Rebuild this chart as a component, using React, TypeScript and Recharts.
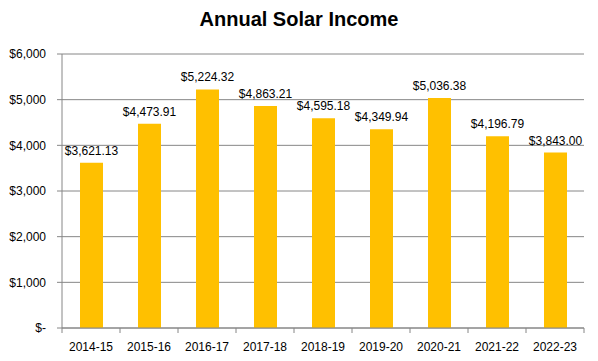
// Annual Solar Income chart
// Excel-style gold column chart with value labels

import { BarChart, Bar, XAxis, YAxis, CartesianGrid, LabelList } from 'recharts';

const years = ['2014-15', '2015-16', '2016-17', '2017-18', '2018-19', '2019-20', '2020-21', '2021-22', '2022-23'];
const income = [3621.13, 4473.91, 5224.32, 4863.21, 4595.18, 4349.94, 5036.38, 4196.79, 3843.0];
const yTicks = [0, 1000, 2000, 3000, 4000, 5000, 6000];

const WIDTH = 598;
const HEIGHT = 361;
const PLOT_LEFT = 62;
const PLOT_RIGHT = 584;
const PLOT_TOP = 54;
const PLOT_BOTTOM = 328;
const GRID = '#868686';
const FONT = '"Liberation Sans", Arial, sans-serif';

const data = years.map((year, i) => ({ year, income: income[i] }));
const halfBand = (PLOT_RIGHT - PLOT_LEFT) / years.length / 2;

const money = (v: number) =>
  '$' + v.toLocaleString('en-US', { minimumFractionDigits: 2, maximumFractionDigits: 2 });

const axisMoney = (v: number) => (v === 0 ? '$-' : '$' + v.toLocaleString('en-US'));

// category ticks sit on the band edges, like Excel
function YearTick(props: any) {
  const { x, payload, index } = props;
  const isLast = index === years.length - 1;
  return (
    <g>
      <line x1={x - halfBand} x2={x - halfBand} y1={PLOT_BOTTOM} y2={PLOT_BOTTOM + 5} stroke={GRID} />
      {isLast && (
        <line x1={x + halfBand} x2={x + halfBand} y1={PLOT_BOTTOM} y2={PLOT_BOTTOM + 5} stroke={GRID} />
      )}
      <text x={x} y={PLOT_BOTTOM + 23} textAnchor="middle" fontSize={12} fontFamily={FONT} fill="#000">
        {payload.value}
      </text>
    </g>
  );
}

export default function App() {
  return (
    <div style={{ position: 'absolute', left: 0, top: 0, width: WIDTH, height: HEIGHT, background: '#fff' }}>
      <div
        style={{
          position: 'absolute',
          top: 8,
          width: WIDTH,
          textAlign: 'center',
          fontFamily: FONT,
          fontWeight: 'bold',
          fontSize: 20,
          color: '#000',
        }}
      >
        Annual Solar Income
      </div>
      <BarChart
        width={WIDTH}
        height={HEIGHT}
        data={data}
        margin={{ top: PLOT_TOP, right: WIDTH - PLOT_RIGHT, bottom: 0, left: 0 }}
      >
        <CartesianGrid vertical={false} stroke={GRID} />
        <XAxis
          dataKey="year"
          height={HEIGHT - PLOT_BOTTOM}
          axisLine={{ stroke: GRID }}
          tickLine={false}
          tick={<YearTick />}
          interval={0}
        />
        <YAxis
          width={PLOT_LEFT}
          domain={[0, 6000]}
          ticks={yTicks}
          tickFormatter={axisMoney}
          axisLine={{ stroke: GRID }}
          tickLine={{ stroke: GRID }}
          tickSize={5}
          tickMargin={11}
          tick={{ fill: '#000', fontSize: 12, fontFamily: FONT }}
        />
        <Bar dataKey="income" fill="#FFC000" barSize={23} isAnimationActive={false}>
          <LabelList
            dataKey="income"
            position="top"
            offset={8}
            formatter={(v: any) => money(Number(v))}
            style={{ fill: '#000', fontSize: 12, fontFamily: FONT }}
          />
        </Bar>
      </BarChart>
    </div>
  );
}
